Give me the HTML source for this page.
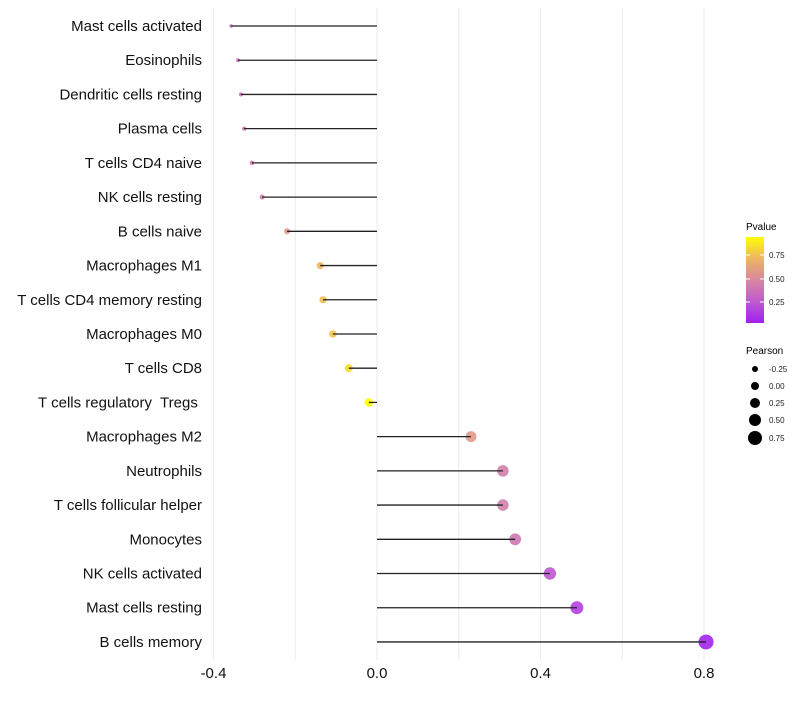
<!DOCTYPE html>
<html><head><meta charset="utf-8"><style>
body{margin:0;background:#fff;font-family:"Liberation Sans",sans-serif;}
svg text{font-family:"Liberation Sans",sans-serif;white-space:pre;}
</style></head><body>
<svg id="chart" width="800" height="700" viewBox="0 0 800 700">
<g id="grid"></g><g id="marks"></g><g id="labels"></g>
<g id="legend">
 <text x="746" y="230" font-size="10">Pvalue</text>
 <defs><linearGradient id="pg" x1="0" y1="1" x2="0" y2="0">
  <stop offset="0" stop-color="#a020f0"/><stop offset="0.25" stop-color="#c05ad0"/><stop offset="0.5" stop-color="#d7879f"/><stop offset="0.75" stop-color="#efb464"/><stop offset="1" stop-color="#ffff00"/>
 </linearGradient></defs>
 <rect x="746" y="237" width="18" height="86" fill="url(#pg)"/>
 <g stroke="#fff" stroke-width="1"><line x1="746" y1="255" x2="750" y2="255"/><line x1="760" y1="255" x2="764" y2="255"/><line x1="746" y1="279" x2="750" y2="279"/><line x1="760" y1="279" x2="764" y2="279"/><line x1="746" y1="302" x2="750" y2="302"/><line x1="760" y1="302" x2="764" y2="302"/></g>
 <g font-size="8" fill="#222"><text x="769" y="258">0.75</text><text x="769" y="282">0.50</text><text x="769" y="305">0.25</text></g>
 <text x="746" y="354" font-size="10">Pearson</text>
 <g fill="#000">
  <circle cx="755" cy="369" r="3"/><circle cx="755" cy="386" r="4"/><circle cx="755" cy="403" r="5"/><circle cx="755" cy="420" r="6"/><circle cx="755" cy="438" r="7"/>
 </g>
 <g font-size="8" fill="#222"><text x="769" y="372">-0.25</text><text x="769" y="389">0.00</text><text x="769" y="406">0.25</text><text x="769" y="423">0.50</text><text x="769" y="441">0.75</text></g>
</g>
</svg>
<script>
const cells=["Mast cells activated","Eosinophils","Dendritic cells resting","Plasma cells","T cells CD4 naive","NK cells resting","B cells naive","Macrophages M1","T cells CD4 memory resting","Macrophages M0","T cells CD8","T cells regulatory  Tregs ","Macrophages M2","Neutrophils","T cells follicular helper","Monocytes","NK cells activated","Mast cells resting","B cells memory"];
const pearson=[-0.357,-0.34,-0.333,-0.325,-0.306,-0.281,-0.22,-0.139,-0.132,-0.108,-0.069,-0.02,0.23,0.308,0.308,0.338,0.423,0.489,0.805];
const pvalue=[0.36,0.38,0.4,0.4,0.43,0.46,0.6,0.76,0.78,0.82,0.88,1.0,0.6,0.45,0.45,0.41,0.24,0.13,0.02];
const xTicks=[-0.4,0,0.4,0.8];
const xTickLabels=["-0.4","0.0","0.4","0.8"];
const minorTicks=[-0.2,0.2,0.6];
const NS="http://www.w3.org/2000/svg";
const X=v=>377+v*408.75;
const Y=i=>26+i*34.22;
const R=v=>Math.sqrt(Math.max(2.5,19.3+45.6*v));
const stops=[[0,[160,32,240]],[0.25,[192,90,208]],[0.5,[215,135,159]],[0.75,[239,180,100]],[1,[255,255,0]]];
function col(p){for(let k=1;k<stops.length;k++){if(p<=stops[k][0]){const a=stops[k-1],b=stops[k],t=(p-a[0])/(b[0]-a[0]);return "rgb("+a[1].map((c,j)=>Math.round(c+(b[1][j]-c)*t)).join(",")+")";}}return "rgb(255,255,0)";}
function mk(t,a,p){const e=document.createElementNS(NS,t);for(const k in a)e.setAttribute(k,a[k]);p.appendChild(e);return e;}
const grid=document.getElementById('grid'),marks=document.getElementById('marks'),labels=document.getElementById('labels');
minorTicks.concat(xTicks).forEach(v=>{const l=mk('line',{x1:X(v),x2:X(v),y1:8,y2:660,stroke:'#ebebeb','stroke-width':1},grid);

});
xTicks.forEach((v,i)=>{const t=mk('text',{x:X(v),y:678,'font-size':15,'text-anchor':'middle',fill:'#111'},labels);t.textContent=xTickLabels[i];

});
cells.forEach((c,i)=>{
 const y=Y(i);
 const t=mk('text',{x:202,y:y+5,'font-size':15,'text-anchor':'end',fill:'#111'},labels);t.textContent=c;
 
 
 const d=mk('circle',{cx:X(pearson[i]),cy:y,r:R(pearson[i]),fill:col(pvalue[i]),'fill-opacity':0.9},marks);
 
 
 const s=mk('line',{x1:X(0),x2:X(pearson[i]),y1:y,y2:y,stroke:'#222','stroke-width':1.3},marks);
 
 
});
</script>
</body></html>
